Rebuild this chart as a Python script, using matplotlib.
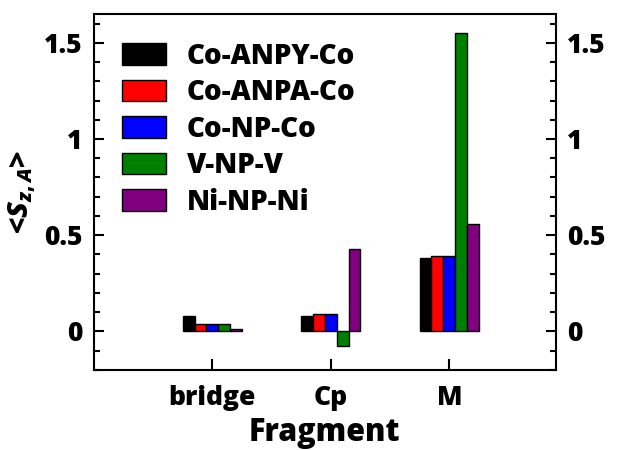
import matplotlib
matplotlib.use("Agg")
import matplotlib.pyplot as plt
import numpy as np
from matplotlib.ticker import MultipleLocator

plt.rcParams['font.family'] = ['Open Sans', 'DejaVu Sans']
plt.rcParams['font.weight'] = 800
plt.rcParams['mathtext.fontset'] = 'custom'
plt.rcParams['mathtext.it'] = 'Open Sans:style=italic:weight=800'
plt.rcParams['mathtext.rm'] = 'Open Sans:weight=800'

fragments = ['bridge', 'Cp', 'M']
systems = ['Co-ANPY-Co', 'Co-ANPA-Co', 'Co-NP-Co', 'V-NP-V', 'Ni-NP-Ni']
colors = ['black', 'red', 'blue', 'green', 'purple']

# spin expectation value per fragment, one list per system
sz_anpy = [0.08, 0.08, 0.38]
sz_anpa = [0.04, 0.09, 0.39]
sz_np_co = [0.04, 0.09, 0.39]
sz_np_v = [0.04, -0.075, 1.55]
sz_np_ni = [0.01, 0.43, 0.56]
series = [sz_anpy, sz_anpa, sz_np_co, sz_np_v, sz_np_ni]

fig = plt.figure(figsize=(6.17, 4.5), dpi=100)
ax = fig.add_axes([0.152, 0.178, 0.749, 0.791])

x = np.arange(len(fragments))
width = 0.1
for i, (vals, name, c) in enumerate(zip(series, systems, colors)):
    ax.bar(x + (i - 2) * width, vals, width, color=c, edgecolor='black',
           linewidth=1.0, label=name)

ax.set_xlim(-1, 2.9)
ax.set_ylim(-0.2, 1.65)
ax.set_xticks(x)
ax.set_xticklabels(fragments, fontsize=19, fontweight=800)
ax.set_yticks([0, 0.5, 1, 1.5])
ax.set_yticklabels(['0', '0.5', '1', '1.5'], fontsize=19, fontweight=800)
ax.yaxis.set_minor_locator(MultipleLocator(0.1))

ax.tick_params(axis='y', which='both', direction='in', left=True, right=True,
               labelleft=True, labelright=True, width=1.5)
ax.tick_params(axis='y', which='major', length=7, pad=8)
ax.tick_params(axis='y', which='minor', length=4)
ax.tick_params(axis='x', which='major', direction='in', length=8, width=1.5,
               top=False, pad=11)
for s in ax.spines.values():
    s.set_linewidth(1.5)

ax.set_xlabel('Fragment', fontsize=22, fontweight=800, labelpad=4)
ax.set_ylabel('<$S_{z,A}$>', fontsize=21, fontweight=800, labelpad=4)

ax.legend(loc='upper left', frameon=False,
          handlelength=1.6, handleheight=0.8, handletextpad=0.75,
          labelspacing=0.27, borderaxespad=0.6, borderpad=0.4,
          prop={'weight': 800, 'size': 20})

fig.savefig('out.png', dpi=100)
